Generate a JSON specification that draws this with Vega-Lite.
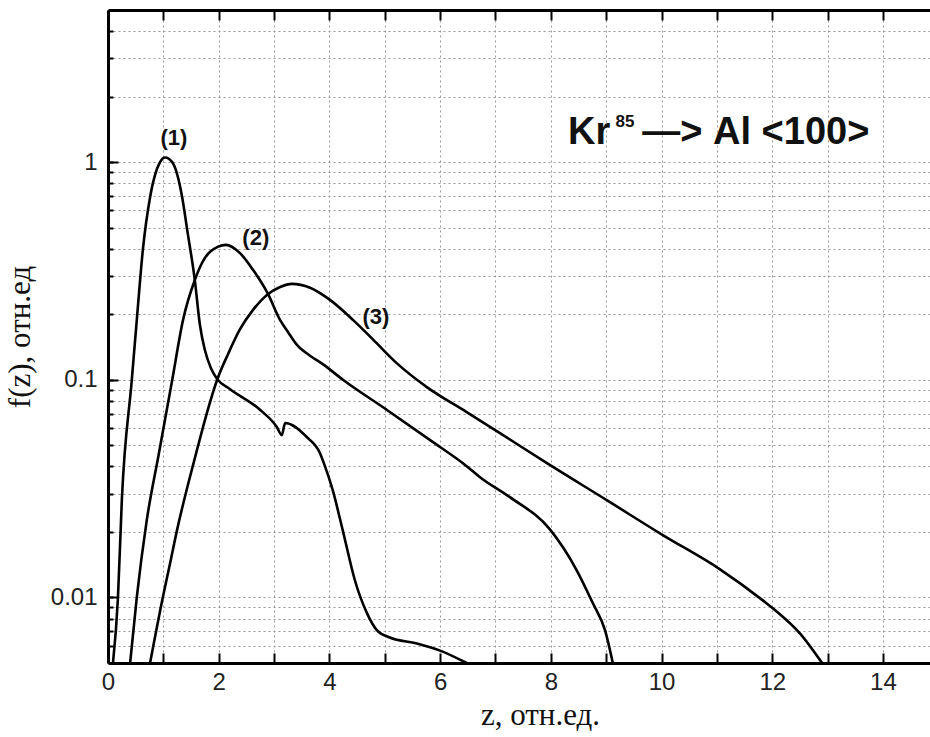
{
  "$schema": "https://vega.github.io/schema/vega-lite/v6.json",
  "width": 822,
  "height": 653,
  "autosize": {"type": "none"},
  "padding": {"left": 108, "top": 10, "right": 0, "bottom": 74},
  "background": "white",
  "config": {
    "view": {"stroke": null},
    "axis": {
      "labelFont": "Liberation Sans",
      "labelFontSize": 24,
      "labelColor": "#222",
      "labelFlush": false,
      "titleFont": "Liberation Serif",
      "titleFontWeight": "normal",
      "titleFontSize": 31,
      "titleColor": "#111",
      "domainColor": "black",
      "domainWidth": 3,
      "tickColor": "black",
      "tickWidth": 2,
      "gridColor": "#999",
      "gridWidth": 1,
      "gridDash": [2, 3]
    }
  },
  "datasets": {
    "curves": [
      {"curve": "1", "z": 0.09, "f": 0.005},
      {"curve": "1", "z": 0.18, "f": 0.01},
      {"curve": "1", "z": 0.25, "f": 0.028},
      {"curve": "1", "z": 0.43, "f": 0.1},
      {"curve": "1", "z": 0.52, "f": 0.188},
      {"curve": "1", "z": 0.63, "f": 0.396},
      {"curve": "1", "z": 0.76, "f": 0.69},
      {"curve": "1", "z": 0.94, "f": 1.0},
      {"curve": "1", "z": 1.03, "f": 1.05},
      {"curve": "1", "z": 1.16, "f": 1.0},
      {"curve": "1", "z": 1.34, "f": 0.69},
      {"curve": "1", "z": 1.43, "f": 0.49},
      {"curve": "1", "z": 1.57, "f": 0.285},
      {"curve": "1", "z": 1.66, "f": 0.179},
      {"curve": "1", "z": 1.75, "f": 0.137},
      {"curve": "1", "z": 1.86, "f": 0.113},
      {"curve": "1", "z": 1.97, "f": 0.101},
      {"curve": "1", "z": 2.2, "f": 0.0908},
      {"curve": "1", "z": 2.75, "f": 0.0727},
      {"curve": "1", "z": 3.05, "f": 0.0607},
      {"curve": "1", "z": 3.14, "f": 0.0557},
      {"curve": "1", "z": 3.2, "f": 0.0633},
      {"curve": "1", "z": 3.59, "f": 0.0546},
      {"curve": "1", "z": 3.83, "f": 0.046},
      {"curve": "1", "z": 3.9, "f": 0.0414},
      {"curve": "1", "z": 4.06, "f": 0.0311},
      {"curve": "1", "z": 4.24, "f": 0.0204},
      {"curve": "1", "z": 4.46, "f": 0.012},
      {"curve": "1", "z": 4.68, "f": 0.00845},
      {"curve": "1", "z": 4.86, "f": 0.00706},
      {"curve": "1", "z": 5.09, "f": 0.00655},
      {"curve": "1", "z": 5.58, "f": 0.00615},
      {"curve": "1", "z": 6.0, "f": 0.0057},
      {"curve": "1", "z": 6.48, "f": 0.005},
      {"curve": "2", "z": 0.4, "f": 0.005},
      {"curve": "2", "z": 0.52, "f": 0.01},
      {"curve": "2", "z": 0.7, "f": 0.0226},
      {"curve": "2", "z": 0.92, "f": 0.046},
      {"curve": "2", "z": 1.16, "f": 0.0998},
      {"curve": "2", "z": 1.355, "f": 0.188},
      {"curve": "2", "z": 1.57, "f": 0.288},
      {"curve": "2", "z": 1.7, "f": 0.345},
      {"curve": "2", "z": 1.99, "f": 0.409},
      {"curve": "2", "z": 2.13, "f": 0.417},
      {"curve": "2", "z": 2.38, "f": 0.383},
      {"curve": "2", "z": 2.62, "f": 0.32},
      {"curve": "2", "z": 2.89, "f": 0.248},
      {"curve": "2", "z": 3.11, "f": 0.188},
      {"curve": "2", "z": 3.25, "f": 0.166},
      {"curve": "2", "z": 3.41, "f": 0.145},
      {"curve": "2", "z": 3.65, "f": 0.129},
      {"curve": "2", "z": 3.88, "f": 0.118},
      {"curve": "2", "z": 4.25, "f": 0.0998},
      {"curve": "2", "z": 5.04, "f": 0.0727},
      {"curve": "2", "z": 5.82, "f": 0.0528},
      {"curve": "2", "z": 6.48, "f": 0.0401},
      {"curve": "2", "z": 6.72, "f": 0.0357},
      {"curve": "2", "z": 7.26, "f": 0.0289},
      {"curve": "2", "z": 7.98, "f": 0.0206},
      {"curve": "2", "z": 8.47, "f": 0.0133},
      {"curve": "2", "z": 8.76, "f": 0.0094},
      {"curve": "2", "z": 8.98, "f": 0.00706},
      {"curve": "2", "z": 9.12, "f": 0.005},
      {"curve": "3", "z": 0.76, "f": 0.005},
      {"curve": "3", "z": 0.99, "f": 0.01},
      {"curve": "3", "z": 1.12, "f": 0.0143},
      {"curve": "3", "z": 1.26, "f": 0.0211},
      {"curve": "3", "z": 1.45, "f": 0.0334},
      {"curve": "3", "z": 1.61, "f": 0.0479},
      {"curve": "3", "z": 1.79, "f": 0.0709},
      {"curve": "3", "z": 1.97, "f": 0.0998},
      {"curve": "3", "z": 2.17, "f": 0.1315},
      {"curve": "3", "z": 2.38, "f": 0.17},
      {"curve": "3", "z": 2.62, "f": 0.2096},
      {"curve": "3", "z": 2.87, "f": 0.2455},
      {"curve": "3", "z": 3.11, "f": 0.267},
      {"curve": "3", "z": 3.32, "f": 0.276},
      {"curve": "3", "z": 3.65, "f": 0.265},
      {"curve": "3", "z": 4.01, "f": 0.233},
      {"curve": "3", "z": 4.43, "f": 0.188},
      {"curve": "3", "z": 4.79, "f": 0.153},
      {"curve": "3", "z": 5.22, "f": 0.119},
      {"curve": "3", "z": 5.76, "f": 0.0926},
      {"curve": "3", "z": 6.48, "f": 0.0711},
      {"curve": "3", "z": 7.08, "f": 0.0569},
      {"curve": "3", "z": 7.93, "f": 0.0414},
      {"curve": "3", "z": 9.01, "f": 0.028},
      {"curve": "3", "z": 10.03, "f": 0.0193},
      {"curve": "3", "z": 11.05, "f": 0.0135},
      {"curve": "3", "z": 11.83, "f": 0.0097},
      {"curve": "3", "z": 12.08, "f": 0.00863},
      {"curve": "3", "z": 12.5, "f": 0.00684},
      {"curve": "3", "z": 12.9, "f": 0.005}
    ],
    "curveLabels": [
      {"label": "(1)", "z": 1.19, "f": 1.29},
      {"label": "(2)", "z": 2.67, "f": 0.45},
      {"label": "(3)", "z": 4.84, "f": 0.195}
    ],
    "heading": [
      {"part": "Kr", "z": 8.31, "f": 1.216, "size": "big"},
      {"part": "85", "z": 9.17, "f": 1.45, "size": "small"},
      {"part": "—>", "z": 9.65, "f": 1.216, "size": "big"},
      {"part": "Al <100>", "z": 10.93, "f": 1.216, "size": "big"}
    ]
  },
  "layer": [
    {
      "data": {"name": "curves"},
      "mark": {"type": "line", "color": "black", "strokeWidth": 2.6, "interpolate": "monotone", "clip": true},
      "encoding": {
        "x": {
          "field": "z", "type": "quantitative",
          "scale": {"domain": [0, 14.85], "nice": false, "zero": false},
          "axis": {
            "orient": "bottom",
            "title": "z, отн.ед.",
            "titlePadding": 6,
            "titleX": 432,
            "values": [0, 1, 2, 3, 4, 5, 6, 7, 8, 9, 10, 11, 12, 13, 14],
            "labelExpr": "datum.value % 2 == 0 ? datum.label : ''",
            "tickSize": -10,
            "labelPadding": 17,
            "grid": true
          }
        },
        "y": {
          "field": "f", "type": "quantitative",
          "scale": {"type": "log", "domain": [0.005, 5], "nice": false},
          "axis": {
            "orient": "left",
            "title": "f(z), отн.ед",
            "titlePadding": 14,
            "values": [0.01, 0.1, 1],
            "labelExpr": "datum.value == 0.01 ? '0.01' : datum.value == 0.1 ? '0.1' : '1'",
            "tickSize": -10,
            "labelPadding": 21,
            "grid": false
          }
        },
        "detail": {"field": "curve"}
      }
    },
    {
      "data": {"name": "curveLabels"},
      "mark": {"type": "text", "font": "Liberation Sans", "fontWeight": "bold", "fontSize": 22, "color": "#111", "align": "center", "baseline": "middle"},
      "encoding": {
        "x": {
          "field": "z", "type": "quantitative",
          "axis": {"orient": "top", "title": null, "labels": false, "values": [0, 1, 2, 3, 4, 5, 6, 7, 8, 9, 10, 11, 12, 13, 14], "tickSize": -10, "grid": false}
        },
        "y": {
          "field": "f", "type": "quantitative",
          "axis": {
            "orient": "left", "title": null, "labels": false, "domain": false,
            "values": [0.006, 0.007, 0.008, 0.009, 0.01, 0.02, 0.03, 0.04, 0.05, 0.06, 0.07, 0.08, 0.09, 0.1, 0.2, 0.3, 0.4, 0.5, 0.6, 0.7, 0.8, 0.9, 1, 2, 3, 4],
            "tickSize": -5,
            "grid": true
          }
        },
        "text": {"field": "label"}
      }
    },
    {
      "data": {"name": "heading"},
      "mark": {"type": "text", "font": "Liberation Sans", "fontWeight": "bold", "color": "#111", "align": "left", "baseline": "alphabetic"},
      "encoding": {
        "x": {"field": "z", "type": "quantitative", "axis": null},
        "y": {"field": "f", "type": "quantitative", "axis": null},
        "text": {"field": "part"},
        "size": {"field": "size", "type": "nominal", "scale": {"domain": ["big", "small"], "range": [38, 17]}, "legend": null}
      }
    }
  ],
  "resolve": {"axis": {"x": "independent", "y": "independent"}}
}
